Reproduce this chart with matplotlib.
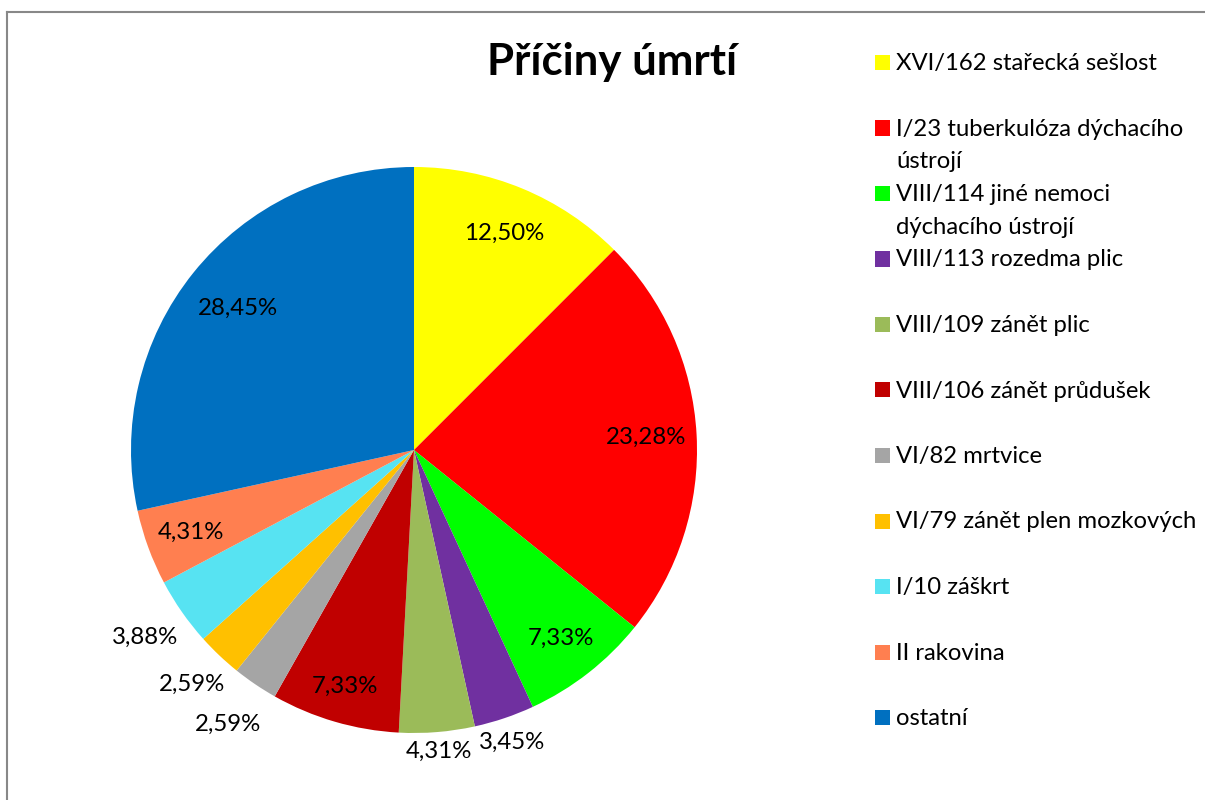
import matplotlib.pyplot as plt
from matplotlib.lines import Line2D
from matplotlib.patches import Rectangle
import numpy as np

plt.rcParams['font.family'] = ['Lato', 'DejaVu Sans']

# data
title = 'Příčiny úmrtí'
causes = ['XVI/162 stařecká sešlost',
          'I/23 tuberkulóza dýchacího\nústrojí',
          'VIII/114 jiné nemoci\ndýchacího ústrojí',
          'VIII/113 rozedma plic',
          'VIII/109 zánět plic',
          'VIII/106 zánět průdušek',
          'VI/82 mrtvice',
          'VI/79 zánět plen mozkových',
          'I/10 záškrt',
          'II rakovina',
          'ostatní']
shares = [12.50, 23.28, 7.33, 3.45, 4.31, 7.33, 2.59, 2.59, 3.88, 4.31, 28.45]
colors = ['#FFFF00', '#FF0000', '#00FF00', '#7030A0', '#9BBB59', '#C00000',
          '#A5A5A5', '#FFC000', '#57E3F2', '#FF7F50', '#0070C0']

# label distance from centre (fraction of radius)
label_r = [0.83, 0.82, 0.845, 1.09, 1.07, 0.87, 1.17, 1.14, 1.16, 0.84, 0.80]

W, H = 1205, 800
fig = plt.figure(figsize=(W / 100, H / 100), dpi=100)

# pie
cx, cy, R = 414, 450, 283
half = 300
ax = fig.add_axes([(cx - half) / W, (H - cy - half) / H, 2 * half / W, 2 * half / H])
wedges, _ = ax.pie(shares, colors=colors, startangle=90, counterclock=False,
                   radius=1, wedgeprops=dict(linewidth=0))
ax.set_xlim(-half / R, half / R)
ax.set_ylim(-half / R, half / R)
ax.set_aspect('equal')
ax.axis('off')

for w, v, r in zip(wedges, shares, label_r):
    a = np.deg2rad((w.theta1 + w.theta2) / 2)
    ax.text(r * np.cos(a), r * np.sin(a), f'{v:.2f}%'.replace('.', ','),
            ha='center', va='center', fontsize=17.3, color='black')

# title
fig.text(612 / W, 1 - 62 / H, title, ha='center', va='center',
         fontsize=31.5, fontweight='bold')

# legend
for i, (lab, c) in enumerate(zip(causes, colors)):
    y = 62 + 65.5 * i
    fig.add_artist(Rectangle((875 / W, 1 - (y + 8) / H), 15 / W, 15 / H,
                             facecolor=c, edgecolor='none',
                             transform=fig.transFigure))
    fig.text(896 / W, 1 - (y - 9) / H, lab, ha='left', va='top',
             fontsize=17.2, linespacing=1.7)

# chart frame
fig.add_artist(Line2D([6.5 / W, 6.5 / W], [0, 1 - 11.5 / H], color='#888888', lw=1.5))
fig.add_artist(Line2D([6.5 / W, 1], [1 - 11.5 / H, 1 - 11.5 / H], color='#888888', lw=1.5))

fig.savefig('out.png', dpi=100)
